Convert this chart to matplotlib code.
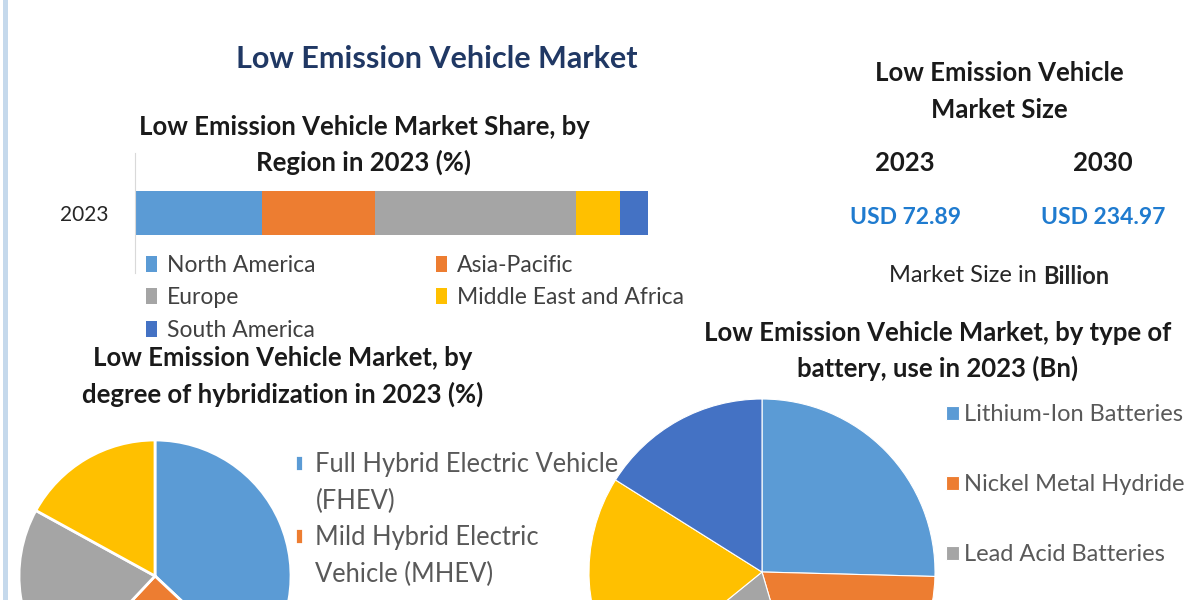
import numpy as np
import matplotlib
matplotlib.use("Agg")
import matplotlib.pyplot as plt
from matplotlib.patches import Patch, Rectangle

# Market share by region, 2023 (%)
bar_year = "2023"
regions = ["North America", "Asia-Pacific", "Europe", "Middle East and Africa", "South America"]
region_share = [24.8, 22.0, 39.2, 8.6, 5.4]

# Market size block
size_years = ["2023", "2030"]
size_values = ["USD 72.89", "USD 234.97"]

# Degree of hybridization, 2023 (%) - only the first two legend entries are visible
hybrid_labels = ["Full Hybrid Electric Vehicle\n(FHEV)", "Mild Hybrid Electric\nVehicle (MHEV)"]
hybrid_share = [37, 25, 21, 17]

# Type of battery, 2023 (Bn) - only the first three legend entries are visible
battery_labels = ["Lithium-Ion Batteries", "Nickel Metal Hydride", "Lead Acid Batteries"]
battery_value = [18.5, 14.6, 13.6, 14.4, 11.7]

office = ["#5B9BD5", "#ED7D31", "#A5A5A5", "#FFC000", "#4472C4"]
navy = "#203864"
usd_blue = "#1F7BCF"
legend_grey = "#404040"

plt.rcParams['font.family'] = ['Lato', 'DejaVu Sans']

W, H = 1200, 600


def fx(x):
    return x / W


def fy(y):
    return 1 - y / H


fig = plt.figure(figsize=(12, 6), dpi=100)
fig.patch.set_facecolor("white")

# light blue strip on the left edge
fig.patches.append(Rectangle((fx(3), 0), 5 / W, 1, transform=fig.transFigure,
                             facecolor="#C5D9EC", edgecolor="none"))

fig.text(fx(437), fy(59), "Low Emission Vehicle Market", ha="center", va="center",
         fontsize=22, fontweight="bold", color=navy)

# ---- stacked bar by region ----
sub_kw = dict(ha="center", va="center", fontsize=18.5, fontweight="bold", color="#1a1a1a")
fig.text(fx(364), fy(127), "Low Emission Vehicle Market Share, by", **sub_kw)
fig.text(fx(364), fy(162), "Region in 2023 (%)", **sub_kw)

ax_bar = fig.add_axes([fx(135), fy(273), 513 / W, 120 / H])
lefts = np.concatenate([[0], np.cumsum(region_share)[:-1]])
bars = []
for i, (name, val) in enumerate(zip(regions, region_share)):
    b = ax_bar.barh(0, val, left=lefts[i], height=0.36, color=office[i], label=name)
    bars.append(b[0])
ax_bar.set_xlim(0, sum(region_share))
ax_bar.set_ylim(-0.5, 0.5)
ax_bar.set_xticks([])
ax_bar.set_yticks([0], [bar_year])
ax_bar.tick_params(axis="y", length=0, pad=19, labelsize=15, labelcolor="#262626")
for s in ["top", "right", "bottom"]:
    ax_bar.spines[s].set_visible(False)
ax_bar.spines["left"].set_color("#D9D9D9")

leg_kw = dict(loc="upper left", frameon=False, fontsize=16.5, borderpad=0, borderaxespad=0,
              handlelength=0.5, handleheight=0.7, handletextpad=0.4, labelspacing=0.5,
              labelcolor=legend_grey)
col1 = [0, 2, 4]
col2 = [1, 3]
fig.legend([bars[i] for i in col1], [regions[i] for i in col1],
           bbox_to_anchor=(fx(146), fy(255)), **leg_kw)
fig.legend([bars[i] for i in col2], [regions[i] for i in col2],
           bbox_to_anchor=(fx(436), fy(255)), **leg_kw)

# ---- market size block ----
fig.text(fx(999), fy(73), "Low Emission Vehicle", **sub_kw)
fig.text(fx(999), fy(110), "Market Size", **sub_kw)
for xc, yr, val in zip([905, 1103], size_years, size_values):
    fig.text(fx(xc), fy(163), yr, **sub_kw)
    fig.text(fx(xc), fy(217), val, ha="center", va="center", fontsize=16.5,
             fontweight="bold", color=usd_blue)
fig.text(fx(1037), fy(276), "Market Size in", ha="right", va="center", fontsize=17, color="#262626")
fig.text(fx(1043), fy(276), "Billion", ha="left", va="center", fontsize=17,
         fontweight="bold", color="#262626")

# ---- pie: degree of hybridization ----
fig.text(fx(283), fy(358), "Low Emission Vehicle Market, by", **sub_kw)
fig.text(fx(283), fy(394), "degree of hybridization in 2023 (%)", **sub_kw)

r1 = 136
ax_p1 = fig.add_axes([fx(155 - r1), fy(576 + r1), 2 * r1 / W, 2 * r1 / H])
w1, _ = ax_p1.pie(hybrid_share, colors=office[:len(hybrid_share)], startangle=90,
                  counterclock=False, wedgeprops=dict(edgecolor="white", linewidth=2))
ax_p1.set_xlim(-1, 1)
ax_p1.set_ylim(-1, 1)

blank = Patch(facecolor="none", edgecolor="none")
h1, l1 = [], []
for w, lab in zip(w1, hybrid_labels):
    lines = lab.split("\n")
    h1.append(w)
    l1.append(lines[0])
    for extra in lines[1:]:
        h1.append(blank)
        l1.append(extra)
fig.legend(h1, l1, loc="upper left", bbox_to_anchor=(fx(295), fy(452)), frameon=False,
           fontsize=18.4, borderpad=0, borderaxespad=0, handlelength=0.3, handleheight=0.6,
           handletextpad=0.5, labelspacing=0.45, labelcolor="#595959")

# ---- pie: type of battery ----
fig.text(fx(938), fy(333), "Low Emission Vehicle Market, by type of", **sub_kw)
fig.text(fx(938), fy(368), "battery, use in 2023 (Bn)", **sub_kw)

r2 = 173
ax_p2 = fig.add_axes([fx(762 - r2), fy(572 + r2), 2 * r2 / W, 2 * r2 / H])
w2, _ = ax_p2.pie(battery_value, colors=office[:len(battery_value)], startangle=90,
                  counterclock=False, wedgeprops=dict(edgecolor="white", linewidth=0.8))
ax_p2.set_xlim(-1, 1)
ax_p2.set_ylim(-1, 1)

fig.legend(w2[:len(battery_labels)], battery_labels, loc="upper left",
           bbox_to_anchor=(fx(946), fy(404)), frameon=False, fontsize=17, borderpad=0,
           borderaxespad=0, handlelength=0.55, handleheight=0.55, handletextpad=0.2,
           labelspacing=2.08, labelcolor="#595959")

fig.savefig("out.png", dpi=100)
